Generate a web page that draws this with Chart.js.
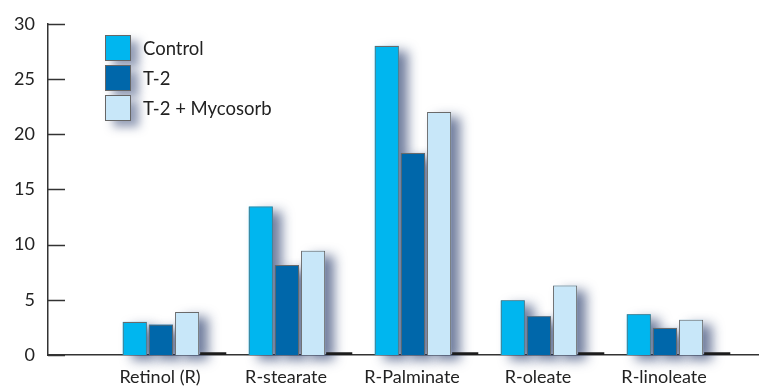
<!DOCTYPE html>
<html>
<head>
<meta charset="utf-8">
<script src="https://cdn.jsdelivr.net/npm/chart.js@4/dist/chart.umd.min.js"></script>
<style>
  html, body { margin: 0; padding: 0; background: #fff; }
  #wrap { position: relative; width: 759px; height: 387px; }
  #legend { position: absolute; left: 105px; top: 35px; font-family: Lato, sans-serif; font-size: 18.5px; color: #222; }
  #legend div { display: flex; align-items: center; height: 26px; margin-bottom: 4px; }
  #legend span.box { width: 26px; height: 26px; border: 1px solid #666; box-sizing: border-box; margin-right: 12px;
    box-shadow: 8px 6px 10px rgba(40, 60, 110, 0.5); }
</style>
</head>
<body>
<div id="wrap">
  <canvas id="c" width="759" height="387"></canvas>
  <div id="legend"></div>
</div>
<script>
const categories = ['Retinol (R)', 'R-stearate', 'R-Palminate', 'R-oleate', 'R-linoleate'];
const control = [3.0, 13.45, 28.0, 4.95, 3.7];
const t2 = [2.75, 8.15, 18.3, 3.5, 2.45];
const t2Mycosorb = [3.9, 9.45, 22.0, 6.3, 3.2];
const baseMarks = [0.25, 0.25, 0.25, 0.25, 0.25];
const yTicks = [0, 5, 10, 15, 20, 25, 30];

const seriesNames = ['Control', 'T-2', 'T-2 + Mycosorb'];
const seriesColors = ['#00b6ef', '#0067aa', '#c8e7f9'];

// bars sit on a linear x axis so the groups can start away from the y axis
function toPoints(arr) {
    return arr.map((v, i) => ({ x: i + 1, y: v }));
}

const datasets = [control, t2, t2Mycosorb].map((arr, i) => ({
    label: seriesNames[i],
    data: toPoints(arr),
    backgroundColor: seriesColors[i],
    borderColor: '#6a6a6a',
    borderWidth: 1,
    borderSkipped: 'bottom'
}));
datasets.push({
    label: '',
    data: toPoints(baseMarks),
    backgroundColor: '#1c1c1c',
    borderWidth: 0,
    barPercentage: 1
});

// blurred shadow behind the coloured bars (bar elements clip their own shadow)
const shadowPlugin = {
    id: 'shadow',
    beforeDatasetsDraw(chart) {
        const ctx = chart.ctx;
        ctx.save();
        ctx.shadowColor = 'rgba(35, 55, 105, 0.65)';
        ctx.shadowBlur = 12;
        ctx.shadowOffsetX = 9;
        ctx.shadowOffsetY = 5;
        for (let d = 0; d < 3; d++) {
            const meta = chart.getDatasetMeta(d);
            ctx.fillStyle = seriesColors[d];
            meta.data.forEach(bar => {
                const p = bar.getProps(['x', 'y', 'base', 'width'], true);
                ctx.fillRect(p.x - p.width / 2, p.y, p.width, p.base - p.y);
            });
        }
        ctx.restore();
    }
};

// tick marks point inward from the y axis
const innerTicks = {
    id: 'innerTicks',
    afterDraw(chart) {
        const ctx = chart.ctx;
        const y = chart.scales.y;
        const left = chart.chartArea.left;
        ctx.save();
        ctx.strokeStyle = '#333';
        ctx.lineWidth = 1.5;
        yTicks.forEach(v => {
            const py = Math.round(y.getPixelForValue(v)) + 0.5;
            ctx.beginPath();
            ctx.moveTo(left, py);
            ctx.lineTo(left + 17, py);
            ctx.stroke();
        });
        ctx.restore();
    }
};

new Chart(document.getElementById('c'), {
    type: 'bar',
    data: { datasets: datasets },
    options: {
        responsive: false,
        animation: false,
        categoryPercentage: 0.83,
        barPercentage: 0.92,
        layout: { padding: { top: 16, left: 0, right: 0, bottom: 0 } },
        plugins: { legend: { display: false }, tooltip: { enabled: false } },
        scales: {
            x: {
                type: 'linear',
                offset: false,
                min: 0,
                max: 711 / 126,
                afterBuildTicks: scale => {
                    scale.ticks = categories.map((c, i) => ({ value: i + 1 }));
                },
                afterFit: scale => { scale.height = 32; },
                grid: { display: false, drawTicks: false },
                border: { display: true, color: '#333', width: 1.5 },
                ticks: {
                    autoSkip: false,
                    maxRotation: 0,
                    padding: 11,
                    labelOffset: -14,
                    color: '#222',
                    font: { family: 'Lato', size: 18 },
                    callback: v => categories[v - 1] || ''
                }
            },
            y: {
                min: 0,
                max: 30,
                afterFit: scale => { scale.width = 48; },
                afterBuildTicks: scale => {
                    scale.ticks = yTicks.map(v => ({ value: v }));
                },
                grid: { display: false, drawTicks: false },
                border: { display: true, color: '#333', width: 1.5 },
                ticks: {
                    padding: 13,
                    color: '#222',
                    font: { family: 'Lato', size: 18 }
                }
            }
        }
    },
    plugins: [shadowPlugin, innerTicks]
});

const legendEl = document.getElementById('legend');
seriesNames.forEach((name, i) => {
    const row = document.createElement('div');
    const box = document.createElement('span');
    box.className = 'box';
    box.style.background = seriesColors[i];
    row.appendChild(box);
    row.appendChild(document.createTextNode(name));
    legendEl.appendChild(row);
});
</script>
</body>
</html>
